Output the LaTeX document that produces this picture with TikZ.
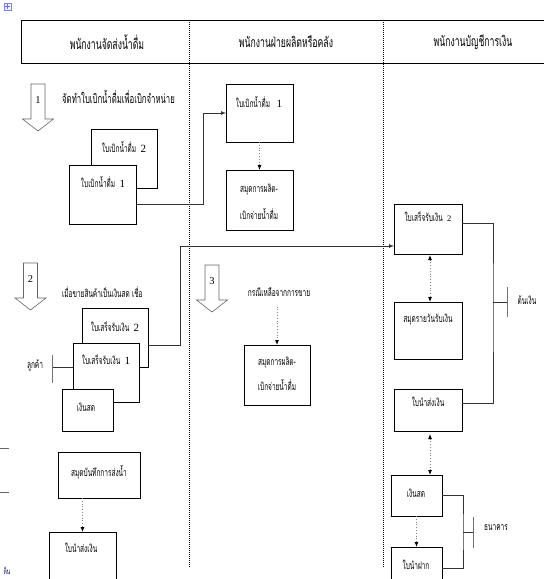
\documentclass[tikz,border=0pt]{standalone}
\usepackage{fontspec}
\setmainfont{Liberation Serif}
\newfontfamily\thai[Script=Thai,FakeStretch=0.62]{Loma}
\usetikzlibrary{arrows.meta}

\tikzset{
 doc/.style={draw,fill=white,line width=.7pt,inner sep=0,outer sep=0},
 txt/.style={font=\thai\fontsize{10.5}{12}\selectfont,inner sep=0},
 head/.style={font=\thai\fontsize{14}{16}\selectfont,inner sep=0},
 num/.style={font=\fontsize{10.5}{12}\selectfont,inner sep=0},
 lane/.style={densely dotted,line width=1pt},
 link/.style={line width=.7pt,black!80},
 dots/.style={dotted,line width=.8pt,black!50},
 tip/.style={-{Latex[black,length=5pt,width=4pt]}},
 twotip/.style={{Latex[black,length=5pt,width=4pt]}-{Latex[black,length=5pt,width=4pt]}},
 bar/.style={line width=.8pt,black!55},
 bigarr/.style={line width=.6pt,black!60,fill=white}
}
\newcommand\dg[1]{{\fontspec{Liberation Serif}\fontsize{11}{12}\selectfont #1}}

\begin{document}
\begin{tikzpicture}[x=1pt,y=-1pt,>=latex]
 \useasboundingbox (0,0) rectangle (544,579);
 % table head and lanes
 \draw[line width=.9pt] (560,20) -- (21,20) -- (21,63) -- (560,63);
 \draw[lane] (189,20) -- (189,567);
 \draw[lane] (383,20) -- (383,567);
 \node[head] (h1) at (107,42) {พนักงานจัดส่งน้ำดื่ม};
 \node[head] (h2) at (286,42) {พนักงานฝ่ายผลิตหรือคลัง};
 \node[head] (h3) at (473,42) {พนักงานบัญชีการเงิน};
 \draw[blue!50,fill=blue!5,line width=.4pt] (4,3) rectangle (11,10);
 \draw[blue!60,line width=.4pt] (7.5,4) -- (7.5,9) (5,6.5) -- (10,6.5);
 \draw[black!60,line width=.7pt] (0,448) -- (9,448) (0,492) -- (9,492);

 % step arrows
 \foreach \cx/\ty/\n in {38/84/1,30.5/263/2,212/265/3}{
  \draw[bigarr] (\cx-7,\ty) -- (\cx+7,\ty) -- (\cx+7,\ty+35) -- (\cx+15.5,\ty+35)
   -- (\cx,\ty+47) -- (\cx-15.5,\ty+35) -- (\cx-7,\ty+35) -- cycle;
  \node[num] (arr\n) at (\cx,\ty+16) {\n};
 }

 % step 1
 \node[txt,anchor=west,font=\thai\fontsize{12.5}{14}\selectfont] (s1) at (62,97) {จัดทำใบเบิกน้ำดื่มเพื่อเบิกจำหน่าย};
 \node[doc,minimum width=66,minimum height=59] (rq2) at (124,158.5) {};
 \node[txt] (rq2t) at (124,147) {ใบเบิกน้ำดื่ม\ \ \dg{2}};
 \node[doc,minimum width=67,minimum height=59] (rq1) at (102.5,194.5) {};
 \node[txt] (rq1t) at (103,182) {ใบเบิกน้ำดื่ม\ \ \dg{1}};
 \node[doc,minimum width=67,minimum height=58] (wq1) at (259.5,113) {};
 \node[txt] (wq1t) at (259,102) {ใบเบิกน้ำดื่ม\ \ \ \dg{1}};
 \node[doc,minimum width=67,minimum height=60] (wl1) at (259.5,200) {};
 \node[txt] (wl1a) at (259,190) {สมุดการผลิต-};
 \node[txt] (wl1b) at (259,214) {เบิกจ่ายน้ำดื่ม};
 \draw[->,link] ([yshift=-9.5pt]rq1.east) -- ++(67,0) |- (wq1.west);
 \draw[dots,tip] (wq1.south) -- (wl1.north);

 % step 2
 \node[txt,anchor=west] (s2) at (62,292) {เมื่อขายสินค้าเป็นเงินสด เชื่อ};
 \node[doc,minimum width=66,minimum height=59] (rc2) at (115,337.5) {};
 \node[txt] (rc2t) at (115,327) {ใบเสร็จรับเงิน\ \ \dg{2}};
 \node[doc,minimum width=66,minimum height=59] (rc1) at (106,372.5) {};
 \node[txt] (rc1t) at (106,360) {ใบเสร็จรับเงิน\ \ \dg{1}};
 \node[doc,minimum width=51,minimum height=42] (cs1) at (87.5,410) {};
 \node[txt] (cs1t) at (86,407) {เงินสด};
 \coordinate (cust) at (52,367);
 \node[txt] (custt) at (35,365) {ลูกค้า};
 \draw[link] ([yshift=5.5pt]rc1.west) -- (cust);
 \draw[bar] ([yshift=12pt]cust) -- ([yshift=-16pt]cust);
 \node[doc,minimum width=82,minimum height=46] (sb) at (99,475) {};
 \node[txt] (sbt) at (99,472) {สมุดบันทึกการส่งน้ำ};
 \node[doc,minimum width=67,minimum height=68] (sn) at (82.5,566) {};
 \node[txt] (snt) at (81,548) {ใบนำส่งเงิน};
 \draw[dots,tip] (sn.north |- sb.south) -- (sn.north);
 \node[txt,font=\thai\fontsize{8}{9}\selectfont,text=blue!40!black] (cut) at (7,571) {ห็น};

 % step 3
 \node[txt] (s3) at (279,292) {กรณีเหลือจากการขาย};
 \node[doc,minimum width=66,minimum height=60] (wl2) at (277,375) {};
 \node[txt] (wl2a) at (277,363) {สมุดการผลิต-};
 \node[txt] (wl2b) at (277,385) {เบิกจ่ายน้ำดื่ม};
 \draw[dots,tip,shorten <=10pt] (s3.south -| wl2.north) -- (wl2.north);

 % finance
 \node[doc,minimum width=68,minimum height=50] (fr2) at (428,229) {};
 \node[txt] (fr2t) at (428,217) {ใบเสร็จรับเงิน\ \ {\fontspec{Liberation Serif}\fontsize{8.5}{9}\selectfont 2}};
 \node[doc,minimum width=68,minimum height=57] (jr) at (428,330.5) {};
 \node[txt] (jrt) at (428,320) {สมุดรายวันรับเงิน};
 \node[doc,minimum width=68,minimum height=42] (fs) at (428,410) {};
 \node[txt] (fst) at (428,402) {ใบนำส่งเงิน};
 \node[doc,minimum width=51,minimum height=41] (cs2) at (416.5,495.5) {};
 \node[txt] (cs2t) at (416,493) {เงินสด};
 \node[doc,minimum width=51,minimum height=42] (dp) at (416.5,568) {};
 \node[txt] (dpt) at (416,565) {ใบนำฝาก};
 \draw[->,link] ([yshift=-7.5pt]rc2.east) -- ++(32,0) |- ([yshift=-17pt]fr2.west);
 \draw[dots,twotip,shorten <=1pt] ([xshift=2pt]fr2.south) -- ([xshift=2pt]jr.north);
 \draw[dots,twotip,shorten <=3pt] ([xshift=2pt]fs.south) -- ([xshift=2pt]fs.south |- cs2.north);
 \draw[dots,tip] (cs2.south) -- (dp.north);

 % files
 \coordinate (keep) at (493,302);
 \coordinate (keepbar) at (507,302);
 \node[txt] (keept) at (527,300) {ต้นเงิน};
 \draw[link] ([yshift=6pt]fr2.east) -| (keep) |- ([yshift=7pt]fs.east);
 \draw[link] (keep) -- (keepbar);
 \draw[bar] ([yshift=15pt]keepbar) -- ([yshift=-15pt]keepbar);
 \coordinate (bank) at (463,532);
 \coordinate (bankbar) at (473,532);
 \node[txt] (bankt) at (496,528) {ธนาคาร};
 \draw[link] (cs2.east) -| (bank) |- (dp.east);
 \draw[link] (bank) -- (bankbar);
 \draw[bar] ([yshift=15pt]bankbar) -- ([yshift=-16pt]bankbar);
\end{tikzpicture}
\end{document}
